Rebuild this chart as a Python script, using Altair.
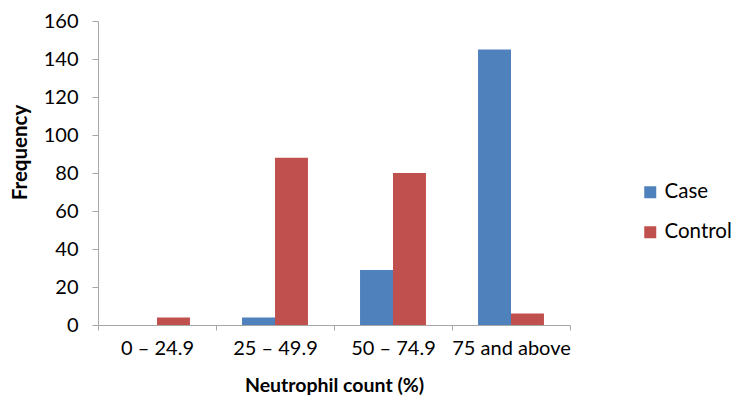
import altair as alt
import pandas as pd

categories = ["0 – 24.9", "25 – 49.9", "50 – 74.9", "75 and above"]
case_values = [0, 4, 29, 145]
control_values = [4, 88, 80, 6]
groups = ["Case", "Control"]
colors = ["#4F81BD", "#C0504D"]

rows = []
for c, a, b in zip(categories, case_values, control_values):
    rows.append({"range": c, "group": "Case", "freq": a})
    rows.append({"range": c, "group": "Control", "freq": b})
df = pd.DataFrame(rows)

FONT = "Lato"
AX = "#A6A6A6"

chart = alt.Chart(df).mark_bar().encode(
    x=alt.X("range:N", sort=categories,
            scale=alt.Scale(paddingInner=0, paddingOuter=0),
            axis=alt.Axis(title="Neutrophil count (%)", labelAngle=0, tickBand="extent",
                          domainColor=AX, tickColor=AX, tickSize=5, labelPadding=8,
                          labelFont=FONT, labelFontSize=20, labelColor="#000000",
                          titleFont=FONT, titleFontSize=19.5, titleFontWeight="bold",
                          titleColor="#000000", titleY=60, titleBaseline="middle",
                          grid=False)),
    xOffset=alt.XOffset("group:N", sort=groups,
                        scale=alt.Scale(paddingInner=0, paddingOuter=0.79)),
    y=alt.Y("freq:Q", scale=alt.Scale(domain=[0, 160], nice=False),
            axis=alt.Axis(title="Frequency", values=list(range(0, 161, 20)),
                          domainColor=AX, tickColor=AX, tickSize=6, labelPadding=14,
                          labelFont=FONT, labelFontSize=20, labelColor="#000000",
                          titleFont=FONT, titleFontSize=20.5, titleFontWeight="bold",
                          titleColor="#000000", titleX=-78, titleY=131,
                          titleBaseline="middle", titleAngle=270, grid=False)),
    color=alt.Color("group:N", sort=groups,
                    scale=alt.Scale(domain=groups, range=colors),
                    legend=alt.Legend(title=None, orient="none", legendX=542, legendY=161,
                                      symbolType="square", symbolSize=144,
                                      symbolStrokeWidth=0, rowPadding=19,
                                      labelFont=FONT, labelFontSize=20.5,
                                      labelColor="#000000", labelOffset=4)),
).properties(
    width=472, height=304,
    autosize=alt.AutoSizeParams(type="none"),
    padding={"left": 98, "top": 21, "right": 166, "bottom": 79},
).configure(background="white").configure_view(stroke="transparent", strokeWidth=0)

chart.save("out.html", embed_options={"renderer": "svg", "actions": False})
